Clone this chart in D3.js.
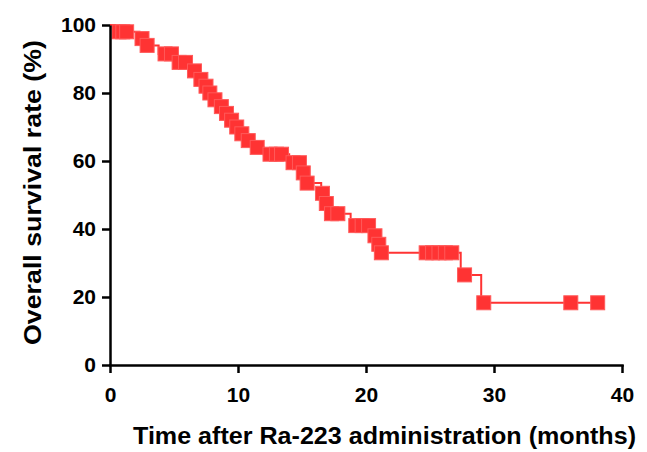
<!DOCTYPE html>
<html>
<head>
<meta charset="utf-8">
<script src="https://cdn.jsdelivr.net/npm/d3@7"></script>
<style>
  body { margin: 0; background: white; }
  text { font-family: "Liberation Sans", Arial, sans-serif; font-weight: bold; fill: #000; }
</style>
</head>
<body>
<div id="chart"></div>
<script>
// Kaplan-Meier steps: time of drop (months) and survival after it (%)
const eventTimes = [0.4, 2.3, 2.7, 3.8, 5.0, 6.4, 6.9, 7.3, 7.6, 8.0, 8.5, 8.9, 9.3, 9.7, 10.1, 10.6, 11.2, 12.0,
  14.0, 15.0, 15.3, 16.5, 16.8, 17.1, 18.8, 20.6, 20.9, 21.1, 27.4, 29.0];
const eventSurv = [98, 96, 94, 91.5, 89, 86.5, 84, 82, 80, 78, 76, 74, 72, 70, 68, 66, 64, 62,
  59.5, 56.5, 53.5, 50.5, 47.5, 44.5, 41, 38, 35.5, 33, 26.5, 18.3];
// censored patients (months)
const censorTimes = [0.7, 1.0, 1.3, 2.5, 2.9, 4.3, 4.8, 5.4, 5.9, 6.6, 7.1, 7.5, 7.8, 8.2, 8.7, 9.1, 9.5, 9.9,
  10.3, 10.8, 11.5, 12.5, 13.0, 13.4, 14.3, 14.8, 15.1, 15.4, 16.6, 16.9, 17.3, 17.8, 19.2, 19.7, 20.2,
  20.7, 21.0, 21.2, 24.7, 25.2, 25.7, 26.2, 26.7, 27.7, 29.2, 36.0, 38.1];
const xTicks = [0, 10, 20, 30, 40];
const yTicks = [0, 20, 40, 60, 80, 100];

const width = 647, height = 452;
const red = "#ff3333";

const svg = d3.select("#chart").append("svg")
  .attr("width", width)
  .attr("height", height);

const x = d3.scaleLinear().domain([0, 40]).range([110, 622]);
const y = d3.scaleLinear().domain([0, 100]).range([365, 25]);

function survAt(t) {
  let s = 100;
  eventTimes.forEach((e, i) => { if (e <= t) s = eventSurv[i]; });
  return s;
}

// step line
const pts = [[0, 100]];
eventTimes.forEach((t, i) => pts.push([t, eventSurv[i]]));
pts.push([d3.max(censorTimes), survAt(d3.max(censorTimes))]);

svg.append("path")
  .datum(pts)
  .attr("fill", "none")
  .attr("stroke", red)
  .attr("stroke-width", 2)
  .attr("d", d3.line().x(d => x(d[0])).y(d => y(d[1])).curve(d3.curveStepAfter));

// censor marks
const sq = 14;
svg.append("g")
  .selectAll("rect")
  .data(censorTimes)
  .join("rect")
  .attr("x", d => x(d) - sq / 2)
  .attr("y", d => y(survAt(d)) - sq / 2)
  .attr("width", sq)
  .attr("height", sq)
  .attr("fill", red)
  .attr("stroke", "#ff5a5a")
  .attr("stroke-width", 1);

// axes
const xAxis = svg.append("g")
  .attr("transform", `translate(0,${y(0)})`)
  .call(d3.axisBottom(x).tickValues(xTicks).tickSize(8).tickPadding(14).tickSizeOuter(0));
const yAxis = svg.append("g")
  .attr("transform", `translate(${x(0)},0)`)
  .call(d3.axisLeft(y).tickValues(yTicks).tickSize(8).tickPadding(6).tickSizeOuter(0));

[xAxis, yAxis].forEach(g => {
  g.selectAll("path, line").attr("stroke", "#000").attr("stroke-width", 2.5);
  g.selectAll("text").style("font-size", "21px").attr("fill", "#000");
});
xAxis.select(".domain").attr("stroke-linecap", "square");

// titles
svg.append("text")
  .attr("x", 133)
  .attr("y", 444)
  .attr("textLength", 503)
  .attr("lengthAdjust", "spacingAndGlyphs")
  .style("font-size", "23px")
  .text("Time after Ra-223 administration (months)");

svg.append("text")
  .attr("transform", `translate(41,345) rotate(-90)`)
  .attr("textLength", 305)
  .attr("lengthAdjust", "spacingAndGlyphs")
  .style("font-size", "23px")
  .text("Overall survival rate (%)");
</script>
</body>
</html>
